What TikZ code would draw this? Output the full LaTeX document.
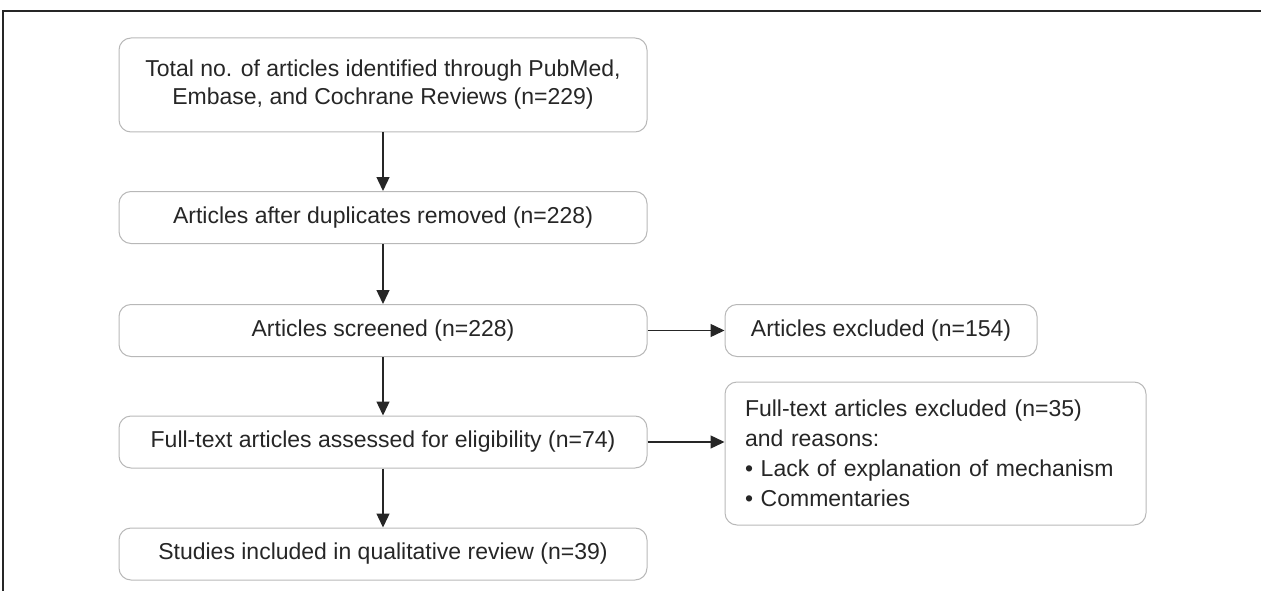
\documentclass[tikz,border=0pt]{standalone}
\usepackage{fontspec}
\setmainfont{Liberation Sans}
\usetikzlibrary{arrows.meta}
\definecolor{boxgray}{gray}{0.72}
\definecolor{inkgray}{gray}{0.15}
\tikzset{flowbox/.style={draw=boxgray,line width=1pt,rounded corners=12pt,
    text=inkgray,font=\fontsize{23}{28}\selectfont,inner sep=0pt,
    minimum height=52pt,align=center}}
\tikzset{flowarrow/.style={draw=inkgray,line width=1.4pt,
    -{Triangle[length=14pt,width=13pt]}}}

\begin{document}
\begin{tikzpicture}[x=1pt,y=-1pt]
  \useasboundingbox (0,0) rectangle (1261,591);
  \draw[inkgray,line width=1.5pt] (1261,11) -- (3,11) -- (3,591);

  % main column
  \node[flowbox,minimum width=528pt,minimum height=94pt] (total) at (383,85)
    {Total no. of articles identified through PubMed,\\Embase, and Cochrane Reviews (n=229)};
  \node[flowbox,minimum width=528pt] (dedup) at (383,217.5)
    {Articles after duplicates removed (n=228)};
  \node[flowbox,minimum width=528pt] (screened) at (383,330.5)
    {Articles screened (n=228)};
  \node[flowbox,minimum width=528pt] (fulltext) at (383,442)
    {Full-text articles assessed for eligibility (n=74)};
  \node[flowbox,minimum width=528pt] (included) at (383,554)
    {Studies included in qualitative review (n=39)};

  % exclusions
  \node[flowbox,minimum width=312pt] (excl) at (881,330.5)
    {Articles excluded (n=154)};
  \node[flowbox,minimum height=143pt,inner xsep=20pt,text width=381pt,
    align=left,font=\fontsize{23}{30}\selectfont] (ftexcl) at (935.5,453.5)
    {Full-text articles excluded (n=35)\\and reasons:\\\textbullet\ Lack of explanation of mechanism\\\textbullet\ Commentaries};

  \draw[flowarrow] (total) -- (dedup);
  \draw[flowarrow] (dedup) -- (screened);
  \draw[flowarrow] (screened) -- (fulltext);
  \draw[flowarrow] (fulltext) -- (included);
  \draw[flowarrow] (screened) -- (excl);
  \draw[flowarrow] (fulltext.east) -- (fulltext.east -| ftexcl.west);
\end{tikzpicture}
\end{document}
